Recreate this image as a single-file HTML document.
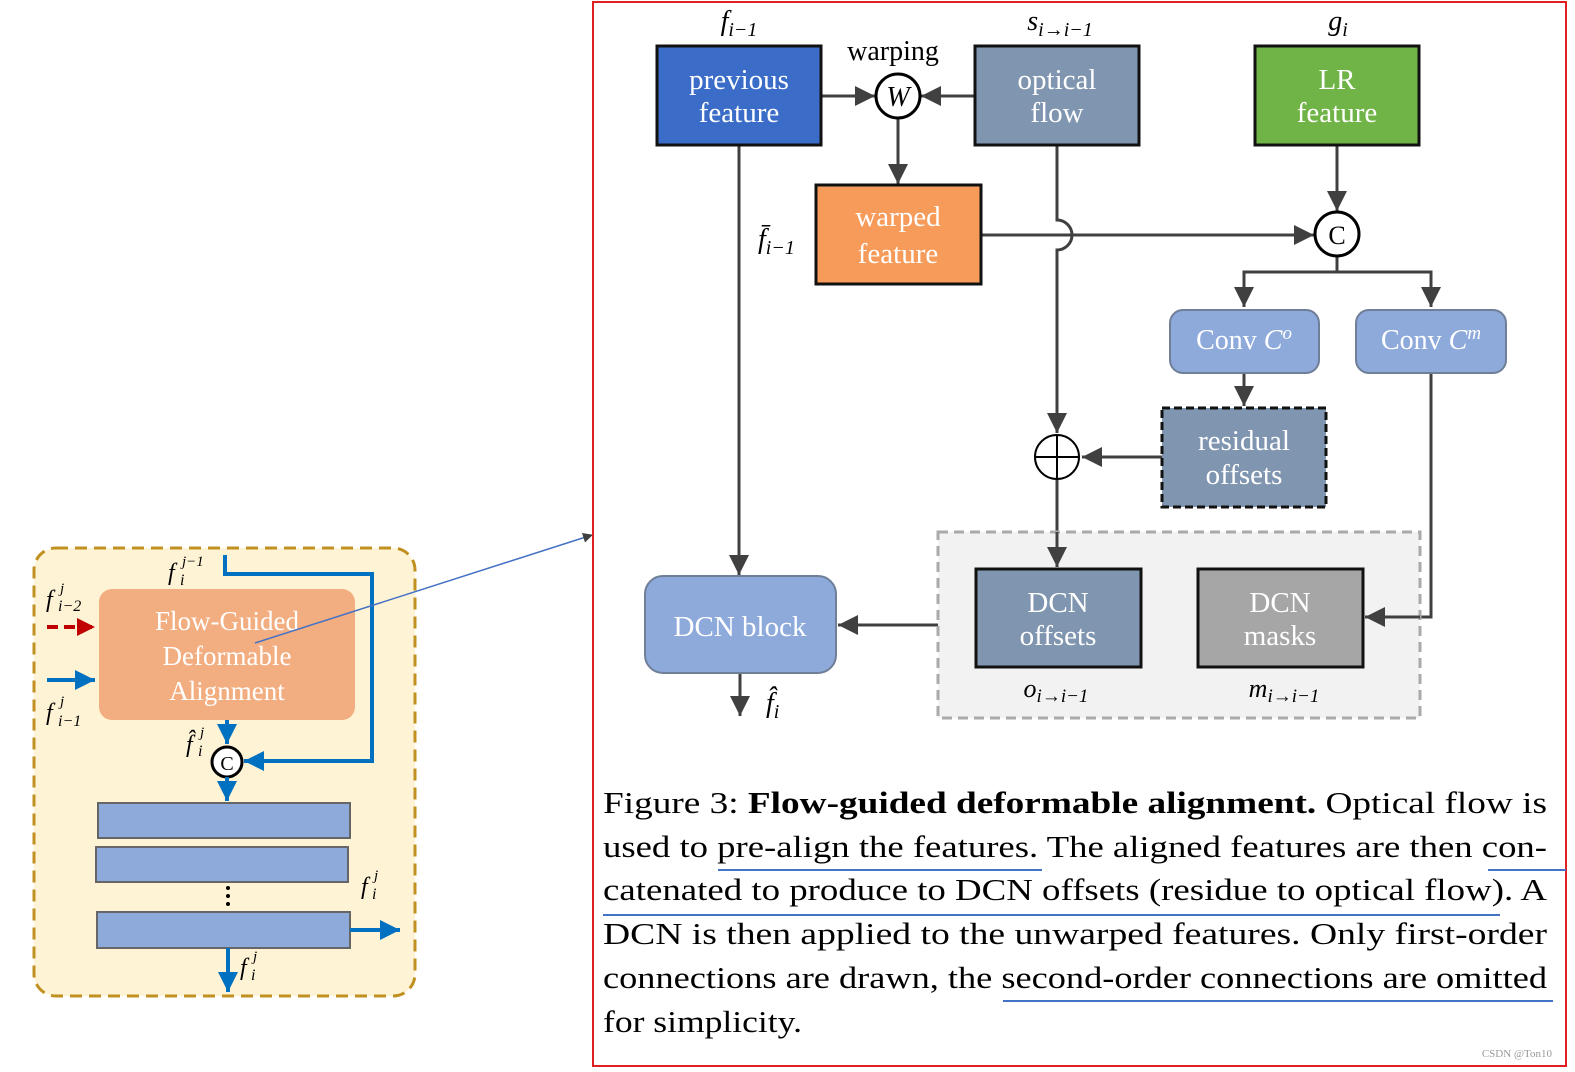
<!DOCTYPE html>
<html><head><meta charset="utf-8"><style>
html,body{margin:0;padding:0;background:#fff;}
svg{display:block;font-family:"Liberation Serif","Times New Roman",Times,serif;}
svg text{font-family:"Liberation Serif","Times New Roman",Times,serif;}
</style></head><body>
<svg width="1575" height="1072" viewBox="0 0 1575 1072" xmlns="http://www.w3.org/2000/svg" font-family="Liberation Serif, Times New Roman, serif">
<defs>
<marker id="ag" markerWidth="10" markerHeight="10" refX="9" refY="5" orient="auto" markerUnits="userSpaceOnUse" viewBox="0 0 10 10"><path d="M0,0 L10,5 L0,10 z" fill="#404040"/></marker>
<marker id="a" viewBox="0 0 10 10" refX="10" refY="5" markerWidth="20" markerHeight="20" markerUnits="userSpaceOnUse" orient="auto"><path d="M0,0 L10,5 L0,10 z" fill="#404040"/></marker>
<marker id="b" viewBox="0 0 10 10" refX="10" refY="5" markerWidth="20" markerHeight="20" markerUnits="userSpaceOnUse" orient="auto"><path d="M0,0 L10,5 L0,10 z" fill="#0070c0"/></marker>
<marker id="r" viewBox="0 0 10 10" refX="10" refY="5" markerWidth="18" markerHeight="18" markerUnits="userSpaceOnUse" orient="auto"><path d="M0,0 L10,5 L0,10 z" fill="#c00000"/></marker>
</defs>

<!-- LEFT PANEL -->
<rect x="34" y="548" width="381" height="448" rx="22" fill="#fff3d6" stroke="#c09020" stroke-width="3" stroke-dasharray="12,7"/>
<rect x="99" y="589" width="256" height="131" rx="13" fill="#f2ae80"/>
<text x="227" y="630" font-size="27" fill="#fff" text-anchor="middle">Flow-Guided</text>
<text x="227" y="665" font-size="27" fill="#fff" text-anchor="middle">Deformable</text>
<text x="227" y="700" font-size="27" fill="#fff" text-anchor="middle">Alignment</text>
<line x1="47" y1="627" x2="95" y2="627" stroke="#c00000" stroke-width="4" stroke-dasharray="11,6" marker-end="url(#r)"/>
<line x1="47" y1="680" x2="95" y2="680" stroke="#0070c0" stroke-width="4" marker-end="url(#b)"/>
<text x="46" y="607" font-size="24" font-style="italic">f</text><text x="60" y="593" font-size="15" font-style="italic">j</text><text x="58" y="611" font-size="16" font-style="italic">i−2</text>
<text x="46" y="720" font-size="24" font-style="italic">f</text><text x="60" y="706" font-size="15" font-style="italic">j</text><text x="58" y="726" font-size="16" font-style="italic">i−1</text>
<text x="168" y="580" font-size="24" font-style="italic">f</text><text x="182" y="566" font-size="15" font-style="italic">j−1</text><text x="180" y="585" font-size="16" font-style="italic">i</text>
<polyline points="225,555 225,574 372,574 372,761 244,761" fill="none" stroke="#0070c0" stroke-width="4" marker-end="url(#b)"/>
<line x1="227" y1="720" x2="227" y2="744" stroke="#0070c0" stroke-width="4" marker-end="url(#b)"/>
<text x="186" y="752" font-size="24" font-style="italic">f̂</text><text x="200" y="737" font-size="15" font-style="italic">j</text><text x="198" y="756" font-size="16" font-style="italic">i</text>
<circle cx="227" cy="762" r="15" fill="#fff" stroke="#000" stroke-width="3"/>
<text x="227" y="770" font-size="20" text-anchor="middle">C</text>
<line x1="227" y1="777" x2="227" y2="801" stroke="#0070c0" stroke-width="4" marker-end="url(#b)"/>
<rect x="98" y="803" width="252" height="35" fill="#8eaadb" stroke="#666" stroke-width="2"/>
<rect x="96" y="847" width="252" height="35" fill="#8eaadb" stroke="#666" stroke-width="2"/>
<circle cx="228" cy="888" r="2" fill="#000"/><circle cx="228" cy="896" r="2" fill="#000"/><circle cx="228" cy="904" r="2" fill="#000"/>
<rect x="97" y="912" width="253" height="36" fill="#8eaadb" stroke="#666" stroke-width="2"/>
<line x1="350" y1="930" x2="400" y2="930" stroke="#0070c0" stroke-width="4" marker-end="url(#b)"/>
<line x1="228" y1="948" x2="228" y2="992" stroke="#0070c0" stroke-width="4" marker-end="url(#b)"/>
<text x="361" y="894" font-size="24" font-style="italic">f</text><text x="374" y="880" font-size="15" font-style="italic">j</text><text x="372" y="899" font-size="16" font-style="italic">i</text>
<text x="240" y="975" font-size="24" font-style="italic">f</text><text x="253" y="961" font-size="15" font-style="italic">j</text><text x="251" y="980" font-size="16" font-style="italic">i</text>
<line x1="255" y1="643" x2="592" y2="535" stroke="#4472c4" stroke-width="1.5" marker-end="url(#ag)"/>

<!-- RED FRAME -->
<rect x="593" y="2" width="973" height="1064" fill="none" stroke="#e02020" stroke-width="2"/>

<!-- connectors -->
<g stroke="#404040" stroke-width="3" fill="none">
<line x1="821" y1="96" x2="875" y2="96" marker-end="url(#a)"/>
<line x1="975" y1="96" x2="921" y2="96" marker-end="url(#a)"/>
<line x1="898" y1="118" x2="898" y2="184" marker-end="url(#a)"/>
<line x1="739" y1="145" x2="739" y2="575" marker-end="url(#a)"/>
<path d="M1057,145 V220 A15,15 0 0 1 1057,250 V433" marker-end="url(#a)"/>
<line x1="981" y1="235" x2="1314" y2="235" marker-end="url(#a)"/>
<line x1="1337" y1="145" x2="1337" y2="211" marker-end="url(#a)"/>
<path d="M1337,256 V272 H1244 V307" marker-end="url(#a)"/>
<path d="M1337,272 H1431 V307" marker-end="url(#a)"/>
<line x1="1244" y1="373" x2="1244" y2="406" marker-end="url(#a)"/>
<line x1="1162" y1="457" x2="1082" y2="457" marker-end="url(#a)"/>
<line x1="1057" y1="480" x2="1057" y2="567" marker-end="url(#a)"/>
<path d="M1431,373 V617 H1365" marker-end="url(#a)"/>
<line x1="938" y1="625" x2="838" y2="625" marker-end="url(#a)"/>
<line x1="740" y1="673" x2="740" y2="716" marker-end="url(#a)"/>
</g>

<!-- boxes -->
<rect x="657" y="46" width="164" height="99" fill="#3b6dc8" stroke="#111" stroke-width="3"/>
<text x="739" y="89" font-size="29" fill="#fff" text-anchor="middle">previous</text>
<text x="739" y="122" font-size="29" fill="#fff" text-anchor="middle">feature</text>
<rect x="975" y="46" width="164" height="99" fill="#8096b0" stroke="#111" stroke-width="3"/>
<text x="1057" y="89" font-size="29" fill="#fff" text-anchor="middle">optical</text>
<text x="1057" y="122" font-size="29" fill="#fff" text-anchor="middle">flow</text>
<rect x="1255" y="46" width="164" height="99" fill="#70b346" stroke="#111" stroke-width="3"/>
<text x="1337" y="89" font-size="29" fill="#fff" text-anchor="middle">LR</text>
<text x="1337" y="122" font-size="29" fill="#fff" text-anchor="middle">feature</text>
<text x="739" y="30" font-size="28" font-style="italic" text-anchor="middle">f<tspan font-size="20" dy="6">i−1</tspan></text>
<text x="1060" y="30" font-size="28" font-style="italic" text-anchor="middle">s<tspan font-size="20" dy="6">i→i−1</tspan></text>
<text x="1338" y="30" font-size="28" font-style="italic" text-anchor="middle">g<tspan font-size="20" dy="6">i</tspan></text>
<text x="893" y="60" font-size="28" text-anchor="middle">warping</text>
<circle cx="898" cy="96" r="22" fill="#fff" stroke="#000" stroke-width="3"/>
<text x="898" y="106" font-size="28" font-style="italic" text-anchor="middle">W</text>

<rect x="816" y="185" width="165" height="99" fill="#f79b5a" stroke="#111" stroke-width="3"/>
<text x="898" y="226" font-size="29" fill="#fff" text-anchor="middle">warped</text>
<text x="898" y="263" font-size="29" fill="#fff" text-anchor="middle">feature</text>
<text x="758" y="248" font-size="28" font-style="italic">f̄<tspan font-size="20" dy="6">i−1</tspan></text>

<circle cx="1337" cy="234" r="22" fill="#fff" stroke="#000" stroke-width="3"/>
<text x="1337" y="244" font-size="26" text-anchor="middle">C</text>

<rect x="1170" y="310" width="149" height="63" rx="13" fill="#8eaadb" stroke="#6f7f98" stroke-width="2"/>
<text x="1244" y="349" font-size="28" fill="#fff" text-anchor="middle">Conv <tspan font-style="italic">C</tspan><tspan font-style="italic" font-size="19" dy="-10">o</tspan></text>
<rect x="1356" y="310" width="150" height="63" rx="13" fill="#8eaadb" stroke="#6f7f98" stroke-width="2"/>
<text x="1431" y="349" font-size="28" fill="#fff" text-anchor="middle">Conv <tspan font-style="italic">C</tspan><tspan font-style="italic" font-size="19" dy="-10">m</tspan></text>

<rect x="1162" y="408" width="164" height="99" fill="#8096b0" stroke="#111" stroke-width="3" stroke-dasharray="8,4"/>
<text x="1244" y="450" font-size="29" fill="#fff" text-anchor="middle">residual</text>
<text x="1244" y="484" font-size="29" fill="#fff" text-anchor="middle">offsets</text>

<circle cx="1057" cy="457" r="22" fill="#fff" stroke="#000" stroke-width="2"/>
<line x1="1035" y1="457" x2="1079" y2="457" stroke="#000" stroke-width="2"/>
<line x1="1057" y1="435" x2="1057" y2="479" stroke="#000" stroke-width="2"/>

<rect x="938" y="532" width="482" height="186" fill="#f2f2f2" stroke="#aaa" stroke-width="3" stroke-dasharray="10,6"/>
<line x1="1057" y1="532" x2="1057" y2="567" stroke="#404040" stroke-width="3" marker-end="url(#a)"/>
<path d="M1420,617 H1365" stroke="#404040" stroke-width="3" marker-end="url(#a)"/>
<rect x="976" y="569" width="165" height="98" fill="#8096b0" stroke="#111" stroke-width="3"/>
<text x="1058" y="612" font-size="29" fill="#fff" text-anchor="middle">DCN</text>
<text x="1058" y="645" font-size="29" fill="#fff" text-anchor="middle">offsets</text>
<rect x="1198" y="569" width="165" height="98" fill="#a6a6a6" stroke="#111" stroke-width="3"/>
<text x="1280" y="612" font-size="29" fill="#fff" text-anchor="middle">DCN</text>
<text x="1280" y="645" font-size="29" fill="#fff" text-anchor="middle">masks</text>
<text x="1056" y="697" font-size="26" font-style="italic" text-anchor="middle">o<tspan font-size="19" dy="5">i→i−1</tspan></text>
<text x="1284" y="697" font-size="26" font-style="italic" text-anchor="middle">m<tspan font-size="19" dy="5">i→i−1</tspan></text>

<rect x="645" y="576" width="191" height="97" rx="18" fill="#8eaadb" stroke="#6f7f98" stroke-width="2"/>
<text x="740" y="636" font-size="29" fill="#fff" text-anchor="middle">DCN block</text>
<text x="766" y="712" font-size="28" font-style="italic">f̂<tspan font-size="20" dy="6">i</tspan></text>

<!-- caption -->
<g font-size="31" fill="#000">
<text x="603" y="813" textLength="944" lengthAdjust="spacingAndGlyphs">Figure 3:  <tspan font-weight="bold">Flow-guided deformable alignment.</tspan>  Optical flow is</text>
<text x="603" y="857" textLength="944" lengthAdjust="spacingAndGlyphs">used to pre-align the features.  The aligned features are then con-</text>
<text x="603" y="900" textLength="944" lengthAdjust="spacingAndGlyphs">catenated to produce to DCN offsets (residue to optical flow).  A</text>
<text x="603" y="944" textLength="944" lengthAdjust="spacingAndGlyphs">DCN is then applied to the unwarped features.  Only first-order</text>
<text x="603" y="988" textLength="944" lengthAdjust="spacingAndGlyphs">connections are drawn, the second-order connections are omitted</text>
<text x="603" y="1032" textLength="199" lengthAdjust="spacingAndGlyphs">for simplicity.</text>
</g>
<g stroke="#4472c4" stroke-width="2">
<line x1="718" y1="870" x2="1042" y2="870"/>
<line x1="1488" y1="870" x2="1566" y2="870"/>
<line x1="603" y1="915" x2="1500" y2="915"/>
<line x1="1003" y1="1001" x2="1553" y2="1001"/>
</g>
<text x="1552" y="1057" font-size="11" fill="#999" text-anchor="end" font-family="Liberation Sans, sans-serif">CSDN @Ton10</text>
</svg>
</body></html>
